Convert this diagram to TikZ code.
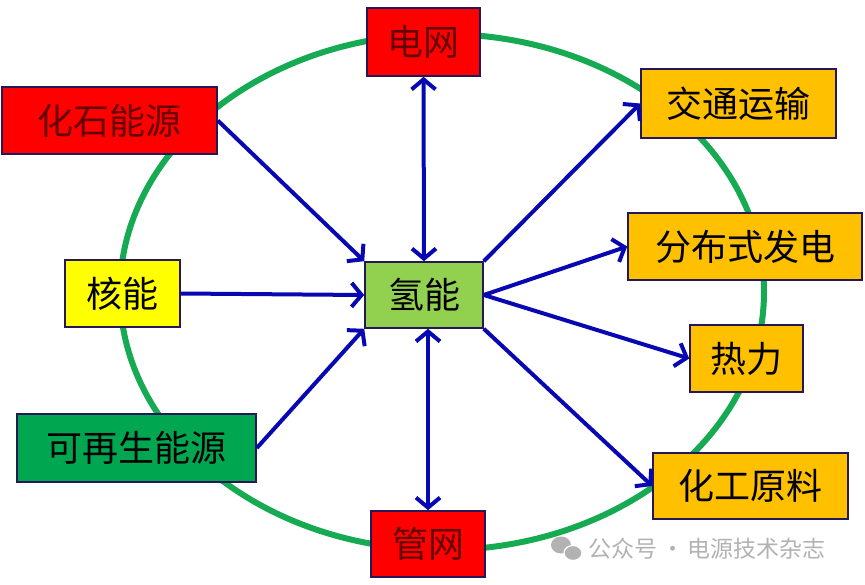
\documentclass[tikz,border=0pt]{standalone}
\usepackage{fontspec}
\newfontfamily\cjk{Noto Sans CJK SC}
\usetikzlibrary{arrows.meta}
\definecolor{ringgreen}{RGB}{22,170,82}
\definecolor{arrblue}{RGB}{8,8,178}
\definecolor{boxborder}{RGB}{38,24,88}
\definecolor{bred}{RGB}{255,0,0}
\definecolor{borange}{RGB}{255,192,0}
\definecolor{byellow}{RGB}{255,255,0}
\definecolor{bgreen}{RGB}{0,166,80}
\definecolor{blight}{RGB}{146,208,80}
\definecolor{redtext}{RGB}{100,0,0}
\definecolor{wmgray}{RGB}{178,178,178}
\tikzset{
  lbox/.style={draw=boxborder, line width=1.6pt, inner sep=0pt,
    font=\cjk\fontsize{36}{38}\selectfont},
  redbox/.style={lbox, fill=bred, text=redtext},
  orgbox/.style={lbox, fill=borange, text=black},
  flow/.style={draw=arrblue, line width=4pt,
    -{Straight Barb[length=10pt,width=24pt]}},
  both/.style={draw=arrblue, line width=4pt,
    {Straight Barb[length=10pt,width=24pt]}-{Straight Barb[length=10pt,width=24pt]}}
}
\begin{document}
\begin{tikzpicture}[x=1pt,y=-1pt]
\useasboundingbox (0,0) rectangle (865,584);
% ring
\draw[ringgreen, line width=6pt] (442,292) ellipse [x radius=322, y radius=258];
% boxes
\node[redbox, minimum width=113pt, minimum height=68pt] (dianwang) at (423.5,42) {电网};
\node[redbox, minimum width=215pt, minimum height=67pt] (huashi) at (109.5,120.5) {化石能源};
\node[lbox, fill=blight, minimum width=118pt, minimum height=66pt] (qing) at (424,295) {氢能};
\node[orgbox, minimum width=195pt, minimum height=69pt] (jiaotong) at (738.5,103.5) {交通运输};
\node[orgbox, minimum width=234pt, minimum height=67pt] (fenbu) at (745,246.5) {分布式发电};
\node[orgbox, minimum width=113pt, minimum height=67pt] (reli) at (746.5,358.5) {热力};
\node[orgbox, minimum width=195pt, minimum height=66pt] (huagong) at (750.5,486) {化工原料};
\node[lbox, fill=byellow, minimum width=115pt, minimum height=67pt] (heneng) at (122.5,293.5) {核能};
\node[lbox, fill=bgreen, minimum width=239pt, minimum height=68pt] (kezai) at (136.5,448) {可再生能源};
\node[redbox, minimum width=114pt, minimum height=66pt] (guanwang) at (428,544) {管网};
% arrows
\draw[flow] (huashi.east) -- (qing.north west);
\draw[flow] (heneng.east) -- (qing.west);
\draw[flow] (kezai.east) -- (qing.south west);
\draw[both] (dianwang.south) -- (qing.north);
\draw[both] (guanwang.north) -- (guanwang.north |- qing.south);
\draw[flow] (qing.north east) -- (jiaotong.west);
\draw[flow] (qing.east) -- (fenbu.west);
\draw[flow] (qing.east) -- (reli.west);
\draw[flow] (qing.south east) -- (huagong.west);
% watermark
\fill[wmgray] (561,545) ellipse [x radius=10, y radius=8.5];
\fill[wmgray, draw=white, line width=1.2pt] (573,553) ellipse [x radius=9, y radius=7.5];
\node[anchor=west, text=wmgray, inner sep=0pt, font=\cjk\fontsize{23}{25}\selectfont] (wm) at (588,549) {公众号\,·\,电源技术杂志};
\end{tikzpicture}
\end{document}
